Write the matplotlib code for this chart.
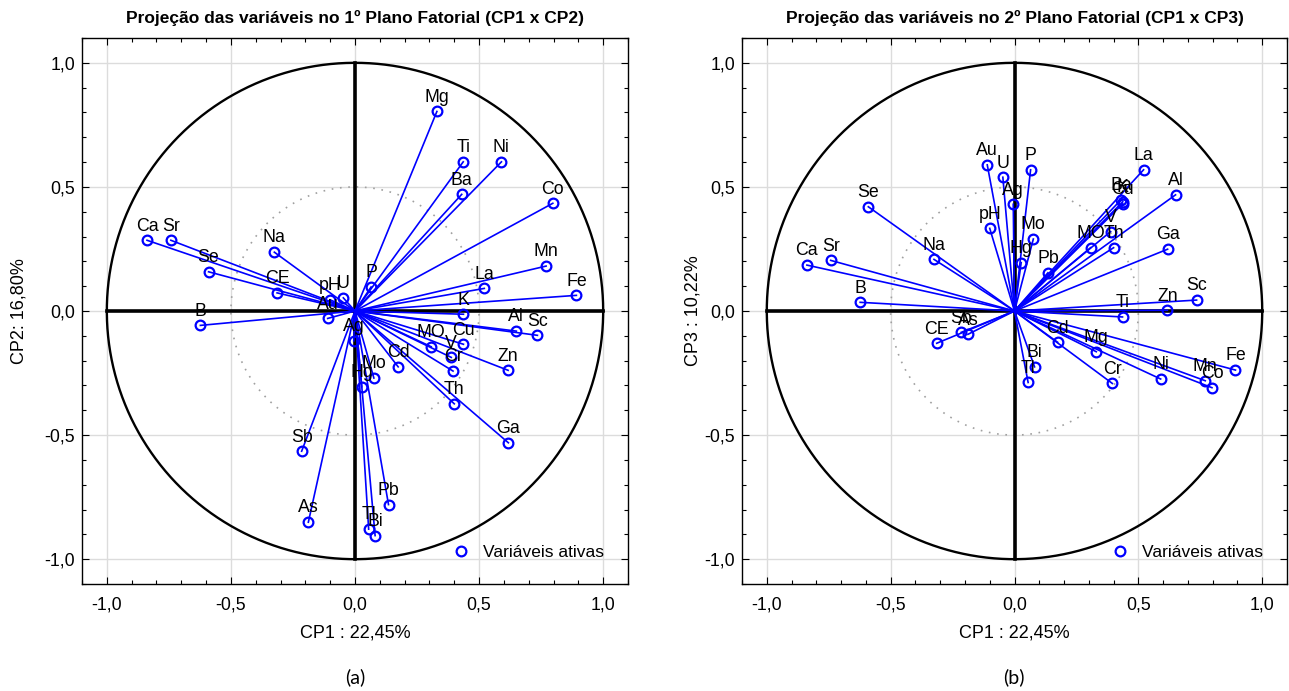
import matplotlib
matplotlib.use("Agg")
import matplotlib.pyplot as plt
import numpy as np
from matplotlib import font_manager
from matplotlib.ticker import MultipleLocator, FuncFormatter

names = ["Ca", "Sr", "Se", "Na", "CE", "pH", "U", "Au", "B", "P", "Mg", "Ti", "Ni", "Ba",
         "Co", "Mn", "Fe", "La", "K", "Al", "Sc", "Cu", "MO", "V", "Cr", "Zn", "Th", "Ga",
         "Cd", "Mo", "Hg", "Ag", "Sb", "As", "Pb", "Tl", "Bi"]
cp1 = [-0.838, -0.742, -0.590, -0.325, -0.314, -0.100, -0.047, -0.110, -0.623, 0.065, 0.330,
       0.436, 0.590, 0.430, 0.797, 0.770, 0.892, 0.521, 0.437, 0.650, 0.735, 0.437, 0.307,
       0.388, 0.395, 0.617, 0.400, 0.618, 0.174, 0.076, 0.027, -0.005, -0.215, -0.188, 0.135,
       0.055, 0.081]
cp2 = [0.285, 0.285, 0.158, 0.237, 0.073, 0.045, 0.053, -0.030, -0.058, 0.097, 0.804, 0.601,
       0.601, 0.470, 0.434, 0.181, 0.063, 0.091, -0.013, -0.081, -0.098, -0.134, -0.144,
       -0.187, -0.242, -0.239, -0.374, -0.531, -0.225, -0.270, -0.305, -0.120, -0.565,
       -0.851, -0.780, -0.879, -0.905]
cp3 = [0.185, 0.204, 0.420, 0.208, -0.130, 0.333, 0.539, 0.589, 0.035, 0.569, -0.164, -0.024,
       -0.274, 0.448, -0.309, -0.281, -0.238, 0.569, 0.440, 0.468, 0.044, 0.432, 0.255, 0.320,
       -0.292, 0.003, 0.255, 0.249, -0.126, 0.290, 0.195, 0.430, -0.086, -0.094, 0.154,
       -0.288, -0.225]

titles = ["Projeção das variáveis no 1º Plano Fatorial (CP1 x CP2)",
          "Projeção das variáveis no 2º Plano Fatorial (CP1 x CP3)"]
xlabel = "CP1 : 22,45%"
ylabels = ["CP2: 16,80%", "CP3 : 10,22%"]
captions = ["(a)", "(b)"]
legend_label = "Variáveis ativas"

plt.rcParams["font.family"] = ["Liberation Sans", "DejaVu Sans"]

fig = plt.figure(figsize=(12.89, 6.91), dpi=100)
axes = [fig.add_axes([82 / 1289, 1 - 584 / 691, 546 / 1289, 546 / 691]),
        fig.add_axes([742 / 1289, 1 - 584 / 691, 545 / 1289, 546 / 691])]

blue = "#0000ff"
fmt = FuncFormatter(lambda v, p: ("%.1f" % v).replace(".", ","))

for k, ax in enumerate(axes):
    ys = cp2 if k == 0 else cp3
    ax.set_xlim(-1.1, 1.1)
    ax.set_ylim(-1.1, 1.1)
    ax.xaxis.set_major_locator(MultipleLocator(0.5))
    ax.yaxis.set_major_locator(MultipleLocator(0.5))
    ax.xaxis.set_minor_locator(MultipleLocator(0.1))
    ax.yaxis.set_minor_locator(MultipleLocator(0.1))
    ax.xaxis.set_major_formatter(fmt)
    ax.yaxis.set_major_formatter(fmt)
    ax.tick_params(which="both", direction="in", top=True, right=True, labelsize=12.8,
                   width=0.8, color="black")
    ax.tick_params(which="major", length=5)
    ax.tick_params(axis="x", which="major", pad=9)
    ax.tick_params(axis="y", which="major", pad=5)
    ax.tick_params(which="minor", length=3)
    ax.grid(True, which="major", color="#dcdcdc", lw=1.0, zorder=0)
    for s in ax.spines.values():
        s.set_linewidth(1.0)
    t = np.linspace(0, 2 * np.pi, 400)
    ax.plot(np.cos(t), np.sin(t), color="black", lw=1.7, zorder=2)
    ax.plot(0.5 * np.cos(t), 0.5 * np.sin(t), color="#a0a0a0", lw=1.2,
            ls=(0, (1, 4)), zorder=2)
    ax.plot([-1, 1], [0, 0], color="black", lw=2.6, zorder=2)
    ax.plot([0, 0], [-1, 1], color="black", lw=2.6, zorder=2)
    for n, x, y in zip(names, cp1, ys):
        ax.plot([0, x], [0, y], color=blue, lw=1.2, zorder=3)
    h, = ax.plot(cp1, ys, ls="none", marker="o", ms=7, mfc="none", mec=blue, mew=1.6,
                 zorder=4, label=legend_label)
    for n, x, y in zip(names, cp1, ys):
        ax.annotate(n, (x, y), xytext=(0, 7), textcoords="offset points", ha="center",
                    va="baseline", fontsize=12.8, color="black", zorder=5)
    ax.legend(handles=[h], loc="lower right", bbox_to_anchor=(0.985, 0.015), frameon=False,
              fontsize=12.5, handletextpad=0.7, handlelength=1.2)
    ax.set_title(titles[k], fontsize=12.5, fontweight="bold", pad=11)
    ax.set_xlabel(xlabel, fontsize=13, labelpad=8)
    ax.set_ylabel(ylabels[k], fontsize=13, labelpad=(12 if k == 0 else 2))

fig.text((82 + 273) / 1289, 1 - 677 / 691, captions[0], ha="center", va="center",
         fontsize=14, family=["Lato", "DejaVu Sans"])
fig.text((742 + 272) / 1289, 1 - 677 / 691, captions[1], ha="center", va="center",
         fontsize=14, family=["Lato", "DejaVu Sans"])

fig.savefig("out.png", dpi=100)
